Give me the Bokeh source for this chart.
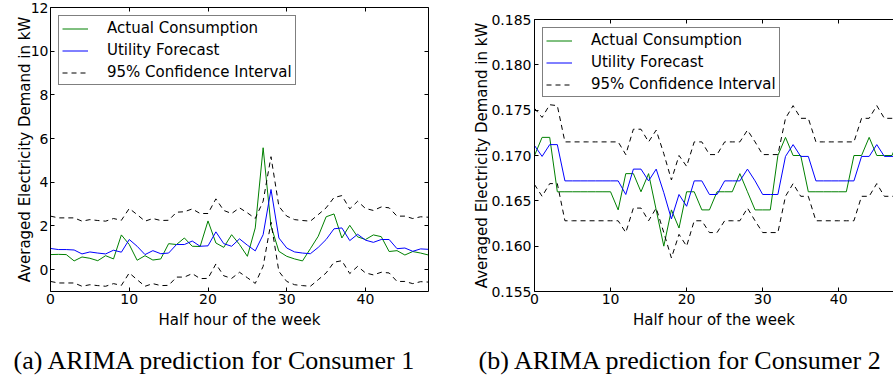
from bokeh.plotting import figure
from bokeh.models import Range1d, LinearAxis, FixedTicker, Legend, LegendItem, Label
from bokeh.layouts import row, column
from bokeh.embed import file_html
from bokeh.resources import INLINE

# ---------------- data ----------------
half_hour = list(range(49))

c1_actual = [0.69, 0.70, 0.69, 0.40, 0.58, 0.52, 0.41, 0.64, 0.49, 1.59,
             1.15, 0.43, 0.64, 0.44, 0.49, 1.19, 1.15, 1.45, 1.07, 1.06,
             2.23, 1.22, 1.02, 1.60, 1.15, 0.61, 1.91, 5.58, 2.00, 0.84,
             0.61, 0.49, 0.40, 0.96, 1.53, 2.42, 2.55, 1.45, 2.03, 1.50,
             1.38, 1.59, 1.51, 0.83, 0.87, 0.67, 0.83, 0.76, 0.67]
c1_forecast = [0.97, 0.92, 0.92, 0.90, 0.72, 0.81, 0.76, 0.72, 0.89, 0.80,
               1.38, 1.07, 0.69, 0.87, 0.73, 0.76, 1.15, 1.15, 1.31, 1.07,
               1.09, 1.73, 1.19, 1.07, 1.41, 1.12, 0.86, 1.60, 3.67, 1.45,
               0.99, 0.81, 0.76, 0.73, 1.02, 1.38, 1.87, 1.91, 1.33, 1.62,
               1.35, 1.25, 1.38, 1.38, 0.96, 0.99, 0.84, 0.95, 0.93]
c1_upper = [2.45, 2.37, 2.37, 2.37, 2.22, 2.29, 2.25, 2.22, 2.34, 2.26,
            2.80, 2.52, 2.22, 2.34, 2.25, 2.26, 2.63, 2.65, 2.78, 2.57,
            2.57, 3.24, 2.71, 2.57, 2.83, 2.60, 2.34, 3.13, 5.17, 2.90,
            2.45, 2.29, 2.25, 2.22, 2.52, 2.83, 3.30, 3.39, 2.78, 3.13,
            2.80, 2.71, 2.87, 2.83, 2.45, 2.45, 2.34, 2.42, 2.40]
c1_lower = [-0.54, -0.61, -0.61, -0.61, -0.76, -0.69, -0.73, -0.76, -0.64, -0.72,
            -0.15, -0.46, -0.76, -0.64, -0.73, -0.72, -0.34, -0.34, -0.18, -0.41,
            -0.40, 0.26, -0.28, -0.40, -0.12, -0.37, -0.63, 0.15, 2.17, -0.08,
            -0.54, -0.69, -0.73, -0.76, -0.46, -0.15, 0.34, 0.41, -0.18, 0.15,
            -0.15, -0.24, -0.12, -0.15, -0.54, -0.54, -0.64, -0.55, -0.57]

c2_actual = [0.170, 0.172, 0.172, 0.166, 0.166, 0.166, 0.166, 0.166, 0.166, 0.166,
             0.166, 0.164, 0.168, 0.168, 0.166, 0.168, 0.164, 0.160, 0.164, 0.162,
             0.166, 0.166, 0.164, 0.164, 0.166, 0.166, 0.166, 0.168, 0.166, 0.164,
             0.164, 0.164, 0.170, 0.172, 0.170, 0.170, 0.166, 0.166, 0.166, 0.166,
             0.166, 0.166, 0.170, 0.170, 0.172, 0.170, 0.170, 0.170, 0.172]
c2_forecast = [0.1711, 0.1699, 0.1712, 0.1712, 0.1672, 0.1672, 0.1672, 0.1672, 0.1672, 0.1672,
               0.1672, 0.1672, 0.1657, 0.1685, 0.1685, 0.1672, 0.1685, 0.1659, 0.1630, 0.1657,
               0.1644, 0.1672, 0.1672, 0.1657, 0.1657, 0.1672, 0.1672, 0.1672, 0.1685, 0.1672,
               0.1657, 0.1657, 0.1657, 0.1699, 0.1712, 0.1699, 0.1699, 0.1672, 0.1672, 0.1672,
               0.1672, 0.1672, 0.1672, 0.1699, 0.1699, 0.1712, 0.1699, 0.1699, 0.1699]
c2_upper = [0.1752, 0.1742, 0.1756, 0.1755, 0.1715, 0.1715, 0.1715, 0.1715, 0.1715, 0.1715,
            0.1715, 0.1715, 0.1701, 0.1729, 0.1729, 0.1715, 0.1728, 0.1702, 0.1673, 0.1700,
            0.1688, 0.1715, 0.1715, 0.1701, 0.1701, 0.1715, 0.1715, 0.1715, 0.1728, 0.1715,
            0.1701, 0.1701, 0.1701, 0.1741, 0.1755, 0.1741, 0.1741, 0.1715, 0.1715, 0.1715,
            0.1715, 0.1715, 0.1715, 0.1741, 0.1741, 0.1755, 0.1741, 0.1741, 0.1741]
c2_lower = [0.1668, 0.1655, 0.1669, 0.1669, 0.1628, 0.1628, 0.1628, 0.1628, 0.1628, 0.1628,
            0.1628, 0.1628, 0.1615, 0.1642, 0.1642, 0.1628, 0.1642, 0.1615, 0.1587, 0.1613,
            0.1600, 0.1628, 0.1628, 0.1615, 0.1615, 0.1628, 0.1628, 0.1628, 0.1642, 0.1628,
            0.1615, 0.1615, 0.1615, 0.1655, 0.1669, 0.1655, 0.1655, 0.1628, 0.1628, 0.1628,
            0.1628, 0.1628, 0.1628, 0.1655, 0.1655, 0.1669, 0.1655, 0.1655, 0.1655]

x_ticks = [0, 10, 20, 30, 40]
x_tick_labels = ["0", "10", "20", "30", "40"]
c1_y_ticks = [0, 2, 4, 6, 8, 10, 12]
c1_y_tick_labels = ["0", "2", "4", "6", "8", "10", "12"]
c2_y_ticks = [0.155, 0.160, 0.165, 0.170, 0.175, 0.180, 0.185]
c2_y_tick_labels = ["0.155", "0.160", "0.165", "0.170", "0.175", "0.180", "0.185"]

series_names = ["Actual Consumption", "Utility Forecast", "95% Confidence Interval"]
x_label = "Half hour of the week"
y_label = "Averaged Electricity Demand in kW"
captions = ["(a) ARIMA prediction for Consumer 1", "(b) ARIMA prediction for Consumer 2"]

# ---------------- style ----------------
FONT = "DejaVu Sans"
CAP_FONT = "Liberation Serif"
GREEN = "#008000"
BLUE = "#0000ff"
DASH = "5 4"
PLOT_H = 334
CAP_H = 42


def style_axis(ax, ticks, labels, axis_label):
    ax.ticker = FixedTicker(ticks=ticks)
    ax.minor_tick_line_color = None
    ax.major_tick_in = 4
    ax.major_tick_out = 0
    ax.major_tick_line_color = "black"
    ax.axis_line_color = "black"
    ax.axis_line_width = 1
    ax.major_label_overrides = {t: l for t, l in zip(ticks, labels)}
    ax.major_label_text_font = FONT
    ax.major_label_text_font_size = "14px"
    ax.major_label_text_color = "black"
    ax.axis_label = axis_label
    ax.axis_label_text_font = FONT
    ax.axis_label_text_font_size = "15px"
    ax.axis_label_text_font_style = "normal"
    ax.axis_label_text_color = "black"


def mirror_axis(ticks):
    # frame edge with inward tick marks only, no labels
    ax = LinearAxis(ticker=FixedTicker(ticks=[], minor_ticks=ticks))
    ax.axis_line_color = "black"
    ax.axis_line_width = 1
    ax.major_tick_line_color = None
    ax.major_tick_in = 0
    ax.major_tick_out = 0
    ax.minor_tick_line_color = "black"
    ax.minor_tick_in = 4
    ax.minor_tick_out = 0
    ax.major_label_standoff = 0
    return ax


def make_panel(width, mb_left, mb_right, mb_top, xr, yr, yticks, ylabels,
               actual, forecast, upper, lower, mirror_right, ystand, ylab_stand):
    p = figure(width=width, height=PLOT_H, output_backend="svg", toolbar_location=None,
               x_range=Range1d(*xr), y_range=Range1d(*yr),
               min_border_left=mb_left, min_border_right=mb_right,
               min_border_top=mb_top, min_border_bottom=43)
    p.grid.visible = False
    p.outline_line_color = None
    p.background_fill_color = "white"
    p.border_fill_color = "white"

    style_axis(p.xaxis[0], x_ticks, x_tick_labels, x_label)
    p.xaxis[0].major_label_standoff = 2
    p.xaxis[0].axis_label_standoff = 4
    style_axis(p.yaxis[0], yticks, ylabels, y_label)
    p.yaxis[0].major_label_standoff = ystand
    p.yaxis[0].axis_label_standoff = ylab_stand

    p.add_layout(mirror_axis(x_ticks), "above")
    if mirror_right:
        p.add_layout(mirror_axis(yticks), "right")

    r_act = p.line(half_hour, actual, line_color=GREEN, line_width=1)
    r_fc = p.line(half_hour, forecast, line_color=BLUE, line_width=1)
    r_up = p.line(half_hour, upper, line_color="black", line_width=1, line_dash=DASH)
    p.line(half_hour, lower, line_color="black", line_width=1, line_dash=DASH)

    legend = Legend(items=[LegendItem(label=series_names[0], renderers=[r_act]),
                           LegendItem(label=series_names[1], renderers=[r_fc]),
                           LegendItem(label=series_names[2], renderers=[r_up])],
                    location="top_left", margin=8, padding=3, spacing=4,
                    label_height=17, glyph_height=17, glyph_width=26, label_standoff=19,
                    border_line_color="black", border_line_width=1,
                    background_fill_color="white", background_fill_alpha=1,
                    label_text_font=FONT, label_text_font_size="15px",
                    label_text_color="black")
    p.add_layout(legend)
    return p


p1 = make_panel(466, 50, 38, 7, (0, 48), (-1, 12), c1_y_ticks, c1_y_tick_labels,
                c1_actual, c1_forecast, c1_upper, c1_lower, True, 2, -6)
p2 = make_panel(427, 68, 0, 19, (0, 47.2), (0.155, 0.185), c2_y_ticks, c2_y_tick_labels,
                c2_actual, c2_forecast, c2_upper, c2_lower, False, 3, -3)

# caption strip spanning the page below the two panels
cap = figure(width=893, height=CAP_H, output_backend="svg", toolbar_location=None,
             x_range=Range1d(0, 1), y_range=Range1d(0, 1),
             x_axis_location=None, y_axis_location=None, min_border=0)
cap.grid.visible = False
cap.outline_line_color = None
cap.background_fill_color = "white"
cap.border_fill_color = "white"
for txt, cx in zip(captions, [13, 478]):
    cap.add_layout(Label(x=cx, y=16, x_units="screen", y_units="screen", text=txt,
                         text_font=CAP_FONT, text_font_size="26px", text_color="black",
                         text_baseline="middle", text_align="left"))

# each panel wrapped on its own so their frames are not forced to share a top edge
layout = column(row(column(p1), column(p2)), cap)
open("out.html", "w").write(file_html(layout, INLINE))
